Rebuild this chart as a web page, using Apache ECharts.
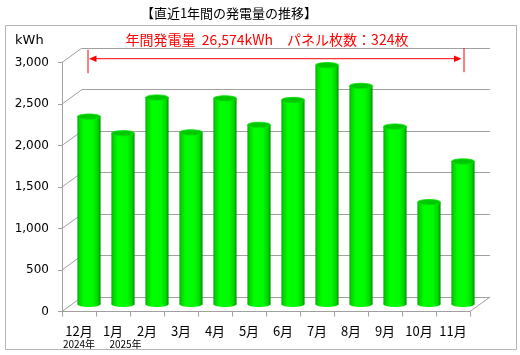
<!DOCTYPE html>
<html>
<head>
<meta charset="utf-8">
<script src="https://cdn.jsdelivr.net/npm/echarts@6/dist/echarts.min.js"></script>
<style>
html,body{margin:0;padding:0;background:#fff;}
#chart{width:520px;height:355px;}
</style>
</head>
<body>
<div id="chart"></div>
<script>
// ---- data ----
const categories = ['12月','1月','2月','3月','4月','5月','6月','7月','8月','9月','10月','11月'];
const yearLabels = ['2024年','2025年','','','','','','','','','',''];
const generation = [2260, 2060, 2490, 2070, 2480, 2160, 2460, 2880, 2630, 2140, 1230, 1720];
const yTicks = [0, 500, 1000, 1500, 2000, 2500, 3000];
const titleText = '【直近1年間の発電量の推移】';
const unitText = 'kWh';
const annotationText = '年間発電量  26,574kWh　パネル枚数：324枚';

// ---- layout (pseudo 3D depth offset) ----
const DX = 20, DY = -14.5;
const FRONT = {left: 62, top: 62.5, width: 408, height: 249};
const GRID_COLOR = '#a0a0a0';
const CJK = '"Noto Sans CJK JP", "Noto Sans", sans-serif';

const chart = echarts.init(document.getElementById('chart'), null, {renderer: 'canvas'});

function cylinder(params, api) {
  const idx = api.value(0), v = api.value(1);
  const top = api.coord([idx, v]);
  const base = api.coord([idx, 0]);
  const band = api.size([1, 0])[0];
  const w = band * 0.68;
  const cx = top[0] + DX / 2;
  const ty = top[1] + DY / 2;
  const by = base[1] + DY / 2;
  const ry = 2.7;
  const grad = new echarts.graphic.LinearGradient(0, 0, 1, 0, [
    {offset: 0, color: '#00a000'},
    {offset: 0.07, color: '#00d400'},
    {offset: 0.28, color: '#00ff00'},
    {offset: 0.68, color: '#00fa00'},
    {offset: 0.9, color: '#00d000'},
    {offset: 1, color: '#008c00'}
  ]);
  return {
    type: 'group',
    children: [
      {type: 'ellipse', shape: {cx: cx, cy: by, rx: w / 2, ry: ry}, style: {fill: grad}},
      {type: 'rect', shape: {x: cx - w / 2, y: ty, width: w, height: by - ty}, style: {fill: grad}},
      {type: 'ellipse', shape: {cx: cx, cy: ty, rx: w / 2, ry: ry},
        style: {fill: '#00c800', stroke: '#00e400', lineWidth: 0.8}}
    ]
  };
}

function frame(params, api) {
  const v = api.value(1);
  const p = api.coord([0, v]);
  const half = api.size([1, 0])[0] / 2;
  const x0 = p[0] - half;
  const children = [
    {type: 'line', shape: {x1: x0, y1: p[1], x2: x0 + DX, y2: p[1] + DY},
      style: {stroke: GRID_COLOR, lineWidth: 1}}
  ];
  if (v === 0) {
    const pr = api.coord([categories.length - 1, 0]);
    const x1 = pr[0] + half;
    children.push({type: 'line', shape: {x1: x1, y1: pr[1], x2: x1 + DX, y2: pr[1] + DY},
      style: {stroke: GRID_COLOR, lineWidth: 1}});
  }
  return {type: 'group', children: children};
}

const option = {
  animation: false,
  backgroundColor: '#fff',
  grid: [
    {left: FRONT.left, top: FRONT.top, width: FRONT.width, height: FRONT.height},
    {left: FRONT.left + DX, top: FRONT.top + DY, width: FRONT.width, height: FRONT.height}
  ],
  xAxis: [
    {
      gridIndex: 0, type: 'category', data: categories,
      axisLine: {show: true, lineStyle: {color: GRID_COLOR}},
      axisTick: {show: true, length: 5, lineStyle: {color: GRID_COLOR}},
      axisLabel: {
        margin: 12, interval: 0, color: '#000',
        formatter: function (val, i) {
          const y = yearLabels[i];
          if (!y) return '{a|' + val + '}';
          return '{a|' + val + '}\n{' + (i === 1 ? 'c' : 'b') + '|' + y + '}';
        },
        rich: {
          a: {fontFamily: CJK, fontSize: 13, lineHeight: 15, color: '#000'},
          b: {fontFamily: CJK, fontSize: 10, lineHeight: 12, color: '#000'},
          c: {fontFamily: CJK, fontSize: 10, lineHeight: 12, color: '#000', padding: [0, 0, 0, 25]}
        }
      }
    },
    {gridIndex: 1, type: 'category', data: categories, show: false}
  ],
  yAxis: [
    {
      gridIndex: 0, type: 'value', min: 0, max: 3000, interval: 500,
      axisLine: {show: true, lineStyle: {color: GRID_COLOR}},
      axisTick: {show: true, length: 4, lineStyle: {color: GRID_COLOR}},
      splitLine: {show: false},
      axisLabel: {
        margin: 13, color: '#000', fontFamily: '"DejaVu Sans"', fontSize: 12,
        formatter: function (v) { return v.toLocaleString('en-US'); }
      }
    },
    {
      gridIndex: 1, type: 'value', min: 0, max: 3000, interval: 500,
      axisLine: {show: false}, axisTick: {show: false}, axisLabel: {show: false},
      splitLine: {show: true, lineStyle: {color: GRID_COLOR, width: 1}}
    }
  ],
  series: [
    {
      type: 'custom', xAxisIndex: 0, yAxisIndex: 0, z: 1,
      renderItem: frame, silent: true,
      data: yTicks.map(function (v) { return [0, v]; })
    },
    {
      type: 'custom', xAxisIndex: 0, yAxisIndex: 0, z: 5,
      renderItem: cylinder,
      data: generation.map(function (v, i) { return [i, v]; })
    }
  ],
  graphic: [
    {type: 'rect', shape: {x: 5.5, y: 25.5, width: 511, height: 324},
      style: {fill: 'none', stroke: '#b4b4b4', lineWidth: 1}, z: 0},
    {type: 'text', x: 229, y: 13, style: {text: titleText, fontFamily: CJK, fontSize: 13,
      fill: '#000', align: 'center', verticalAlign: 'middle'}},
    {type: 'text', x: 15, y: 41, style: {text: unitText, fontFamily: '"DejaVu Sans"', fontSize: 13,
      fill: '#000', align: 'left', verticalAlign: 'middle'}},
    {type: 'text', x: 267, y: 40, style: {text: annotationText, fontFamily: CJK, fontSize: 14,
      fill: '#ff0000', align: 'center', verticalAlign: 'middle'}}
  ]
};
chart.setOption(option);

// red span arrow from first to last bar (mid-depth centres)
const xs = chart.convertToPixel({xAxisIndex: 0}, categories[0]) + DX / 2;
const xe = chart.convertToPixel({xAxisIndex: 0}, categories[categories.length - 1]) + DX / 2;
const ay = 58.7;
const RED = '#ff0000';
chart.setOption({
  graphic: [
    {type: 'rect', shape: {x: 5.5, y: 25.5, width: 511, height: 324},
      style: {fill: 'none', stroke: '#b4b4b4', lineWidth: 1}, z: 0},
    {type: 'text', x: 229, y: 13, style: {text: titleText, fontFamily: CJK, fontSize: 13,
      fill: '#000', align: 'center', verticalAlign: 'middle'}},
    {type: 'text', x: 15, y: 41, style: {text: unitText, fontFamily: '"DejaVu Sans"', fontSize: 13,
      fill: '#000', align: 'left', verticalAlign: 'middle'}},
    {type: 'text', x: 267, y: 40, style: {text: annotationText, fontFamily: CJK, fontSize: 14,
      fill: RED, align: 'center', verticalAlign: 'middle'}},
    {type: 'line', shape: {x1: xs - 1, y1: ay - 9, x2: xs - 1, y2: ay + 14.5}, style: {stroke: RED, lineWidth: 1}},
    {type: 'line', shape: {x1: xe + 1, y1: ay - 10.5, x2: xe + 1, y2: ay + 13.5}, style: {stroke: RED, lineWidth: 1}},
    {type: 'line', shape: {x1: xs + 5, y1: ay, x2: xe - 5, y2: ay}, style: {stroke: RED, lineWidth: 1}},
    {type: 'polygon', shape: {points: [[xs, ay], [xs + 7.5, ay - 3.2], [xs + 7.5, ay + 3.2]]}, style: {fill: RED}},
    {type: 'polygon', shape: {points: [[xe - 1.5, ay], [xe - 9, ay - 3.2], [xe - 9, ay + 3.2]]}, style: {fill: RED}}
  ]
}, {replaceMerge: ['graphic']});
</script>
</body>
</html>
